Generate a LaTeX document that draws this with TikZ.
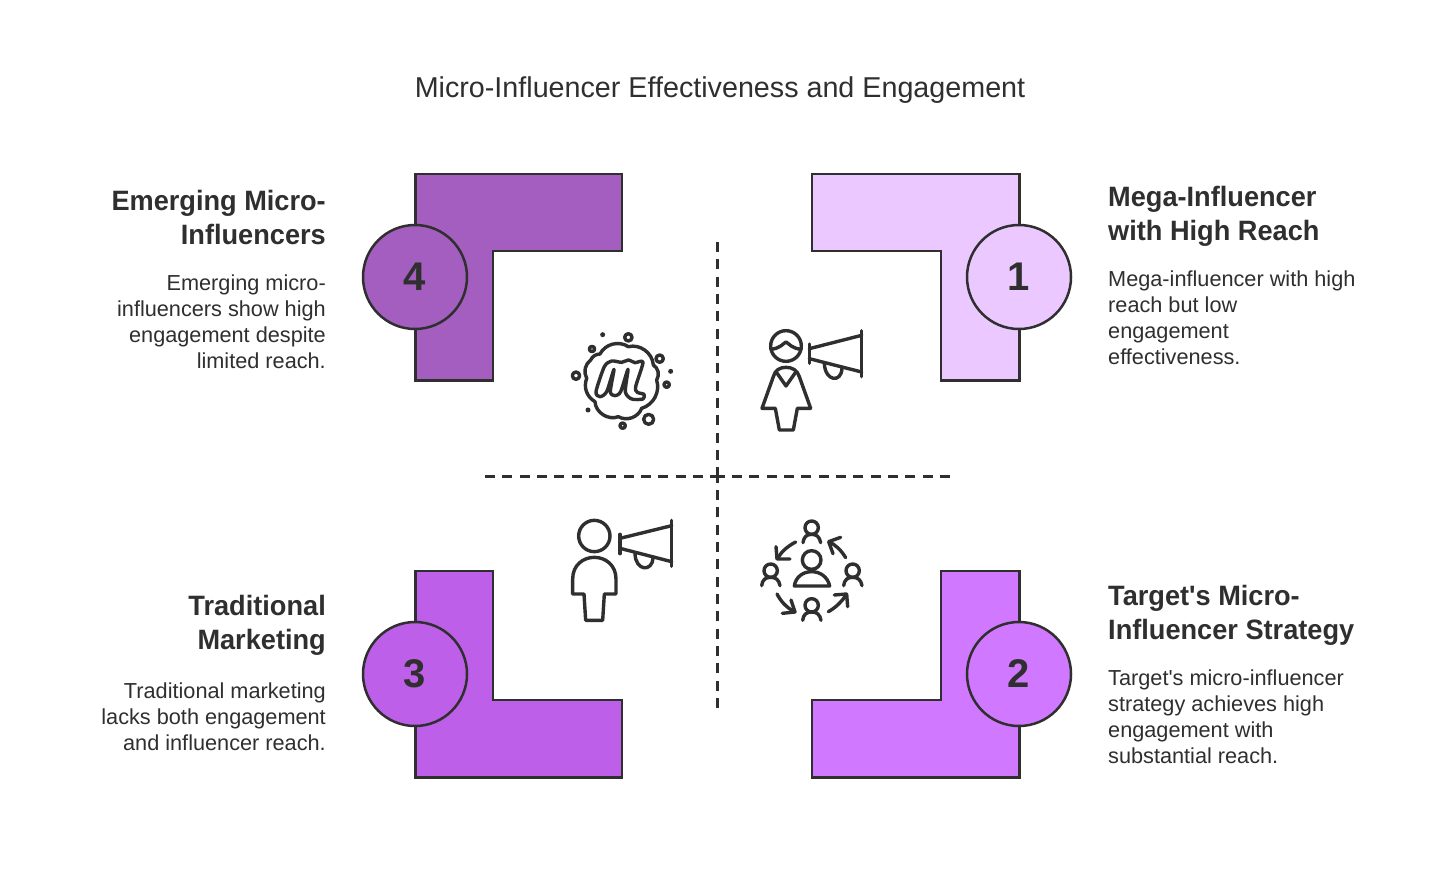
\documentclass[tikz,border=0pt]{standalone}
\usepackage{fontspec}
\setmainfont[Ligatures=TeXOff]{Liberation Sans}
\newfontfamily\headfont[Ligatures=TeXOff,FakeStretch=0.97]{Liberation Sans}
\definecolor{ink}{HTML}{2F2F2F}
\definecolor{cone}{HTML}{EBC8FF}
\definecolor{ctwo}{HTML}{D078FF}
\definecolor{cthree}{HTML}{BD5FE8}
\definecolor{cfour}{HTML}{A35EC0}
\tikzset{
  lshape/.style={draw=ink,line width=2.7pt,line join=miter},
  badge/.style={circle,draw=ink,line width=2.5pt,minimum size=104pt,inner sep=0pt,text=ink,font=\fontsize{40}{44}\selectfont\bfseries},
  heading/.style={inner sep=0pt,text=ink,font=\headfont\fontsize{28}{34}\selectfont\bfseries},
  body/.style={inner sep=0pt,text=ink,font=\fontsize{21.7}{26}\selectfont},
  leftx/.style={anchor=north east,align=right},
  rightx/.style={anchor=north west,align=left},
  axis/.style={draw=ink,line width=3pt,dash pattern=on 10pt off 7.33pt},
  icon/.style={draw=ink,line width=3.4pt,line cap=round,line join=round},
  iconscale/.style={x=0.3333pt,y=-0.3333pt},
  dotfill/.style={fill=ink,draw=none}
}
\begin{document}
\begin{tikzpicture}[x=1pt,y=-1pt]
\useasboundingbox[fill=white] (0,0) rectangle (1440,884);
\node[inner sep=0pt,text=ink,font=\fontsize{28.7}{34}\selectfont] (title) at (720,90) {Micro-Influencer Effectiveness and Engagement};

\coordinate (vt) at (717,242); \coordinate (vb) at (717,708);
\coordinate (hl) at (485,476); \coordinate (hr) at (950,476);
\coordinate (vca) at (717,478); \coordinate (vcb) at (717,472);
\coordinate (hca) at (721,476); \coordinate (hcb) at (713,476);
\draw[axis] (vt) -- (vca);
\draw[axis] (vb) -- (vcb);
\draw[axis] (hl) -- (hca);
\draw[axis] (hr) -- (hcb);

\path[lshape,fill=cfour] (415.5,174) -- (622,174) -- (622,251) -- (493,251) -- (493,380.5) -- (415.5,380.5) -- cycle;
\path[lshape,fill=cone] (812,174) -- (1019.5,174) -- (1019.5,380.5) -- (941,380.5) -- (941,251) -- (812,251) -- cycle;
\path[lshape,fill=cthree] (415.5,571) -- (493,571) -- (493,700) -- (622,700) -- (622,777.5) -- (415.5,777.5) -- cycle;
\path[lshape,fill=ctwo] (941,571) -- (1019.5,571) -- (1019.5,777.5) -- (812,777.5) -- (812,700) -- (941,700) -- cycle;

\node[badge,fill=cfour] (b4) at (415,277) {4};
\node[badge,fill=cone] (b1) at (1019,277) {1};
\node[badge,fill=cthree] (b3) at (415,674) {3};
\node[badge,fill=ctwo] (b2) at (1019,674) {2};

\node[heading,leftx] (h4) at (326,190) {Emerging Micro-\\Influencers};
\node[body,leftx] (t4) at (326,275) {Emerging micro-\\influencers show high\\engagement despite\\limited reach.};
\node[heading,rightx] (h1) at (1108,186) {Mega-Influencer\\with High Reach};
\node[body,rightx] (t1) at (1108,271) {Mega-influencer with high\\reach but low\\engagement\\effectiveness.};
\node[heading,leftx] (h3) at (326,595) {Traditional\\Marketing};
\node[body,leftx] (t3) at (326,683) {Traditional marketing\\lacks both engagement\\and influencer reach.};
\node[heading,rightx] (h2) at (1108,585) {Target's Micro-\\Influencer Strategy};
\node[body,rightx] (t2) at (1108,670) {Target's micro-influencer\\strategy achieves high\\engagement with\\substantial reach.};

% cloud icon
\begin{scope}[shift={(550,310)},iconscale]
\draw[icon] (150,132) to[bend left=48] (235,110) to[bend left=50] (310,165) to[bend left=45] (320,210) to[bend left=45] (275,295) to[bend left=50] (205,320) to[bend left=55] (135,275) to[bend left=40] (110,205) to[bend left=40] (122,150) to[bend left=30] cycle;
\draw[icon] plot[smooth cycle,tension=0.45] coordinates {(138,245)(163,170)(185,153)(215,157)(235,150)(255,158)(279,157)(257,230)(262,247)(282,253)(279,267)(245,267)(226,245)(234,178)(212,245)(195,257)(181,245)(192,178)(170,245)(150,260)};
\draw[icon] (235,82) circle (11);
\draw[icon] (126,117) circle (8);
\draw[icon] (329,146) circle (11);
\draw[icon] (78,197) circle (11);
\draw[icon] (350,224) circle (8);
\draw[icon] (296,328) circle (15);
\draw[icon] (218,347) circle (8);
\fill[dotfill] (158,74) circle (7.5);
\fill[dotfill] (362,184) circle (7.5);
\fill[dotfill] (114,300) circle (7.5);
\end{scope}

% woman with megaphone
\begin{scope}[shift={(740,310)},iconscale]
\draw[icon] (138,108) circle (46);
\draw[icon] (93,118) .. controls (120,115) and (128,102) .. (138,96) .. controls (148,102) and (156,115) .. (183,118);
\draw[icon] (66,295) -- (100,200) .. controls (105,180) and (120,172) .. (138,172) .. controls (156,172) and (172,180) .. (178,200) -- (212,295) -- (172,295) -- (160,360) -- (118,360) -- (106,295) -- cycle;
\draw[icon] (110,188) -- (138,228) -- (166,188);
\draw[icon] (208,102) -- (208,160);
\draw[icon] (208,116) -- (365,76);
\draw[icon] (208,146) -- (365,186);
\draw[icon] (365,62) -- (365,200);
\draw[icon] (253,160) .. controls (255,215) and (305,220) .. (306,174);
\end{scope}

% person with megaphone
\begin{scope}[shift={(550,505)},iconscale]
\draw[icon] (133,93) circle (47);
\draw[icon] (68,267) -- (68,222) .. controls (68,180) and (100,157) .. (133,157) .. controls (166,157) and (198,180) .. (198,222) -- (198,267) -- (163,267) -- (158,346) -- (107,346) -- (102,267) -- cycle;
\draw[icon] (210,88) -- (210,146);
\draw[icon] (210,100) -- (365,62);
\draw[icon] (210,130) -- (365,170);
\draw[icon] (365,46) -- (365,184);
\draw[icon] (255,146) .. controls (257,200) and (307,200) .. (309,160);
\end{scope}

% circle of people
\begin{scope}[shift={(745,505)},iconscale]
\draw[icon] (200,68) circle (20);
\draw[icon] (174,113) .. controls (176,95) and (186,88) .. (200,88) .. controls (214,88) and (224,95) .. (227,113);
\draw[icon] (77,197) circle (20);
\draw[icon] (50,242) .. controls (52,224) and (62,217) .. (77,217) .. controls (92,217) and (102,224) .. (105,242);
\draw[icon] (323,197) circle (20);
\draw[icon] (296,242) .. controls (298,224) and (308,217) .. (323,217) .. controls (338,217) and (348,224) .. (351,242);
\draw[icon] (200,301) circle (20);
\draw[icon] (173,346) .. controls (175,328) and (185,321) .. (200,321) .. controls (215,321) and (225,328) .. (228,346);
\draw[icon] (200,165) circle (28);
\draw[icon] (148,243) .. controls (152,215) and (175,200) .. (200,200) .. controls (225,200) and (248,215) .. (254,243) -- cycle;
\draw[icon] (152,111) .. controls (125,125) and (108,142) .. (98,160);
\draw[icon] (93,125) -- (96,162) -- (135,162);
\draw[icon] (302,158) .. controls (288,135) and (272,120) .. (252,110);
\draw[icon] (287,97) -- (251,110) -- (264,146);
\draw[icon] (96,267) .. controls (108,290) and (125,308) .. (148,320);
\draw[icon] (112,325) -- (150,321) -- (138,285);
\draw[icon] (250,320) .. controls (272,308) and (290,290) .. (305,268);
\draw[icon] (268,270) -- (305,267) -- (308,305);
\end{scope}
\end{tikzpicture}
\end{document}
